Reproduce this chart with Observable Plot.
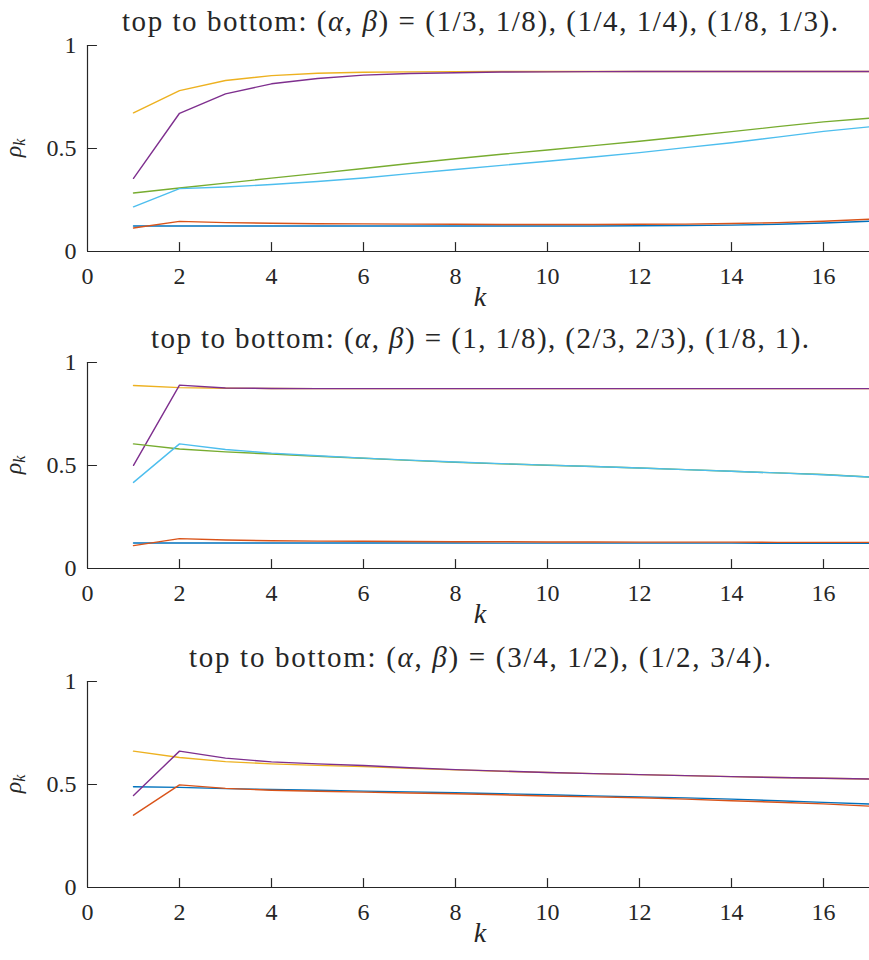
<!DOCTYPE html>
<html>
<head>
<meta charset="utf-8">
<script src="https://cdn.jsdelivr.net/npm/d3@7"></script>
<script src="https://cdn.jsdelivr.net/npm/@observablehq/plot@0.6"></script>
<style>
  html, body { margin: 0; padding: 0; background: #fff; }
  body { width: 869px; height: 960px; position: relative; overflow: hidden; }
  .panel { position: absolute; left: 0; }
  .panel svg { overflow: visible; }
</style>
</head>
<body>
<script>
// ---- data ----
const K = [1, 2, 3, 4, 5, 6, 7, 8, 9, 10, 11, 12, 13, 14, 15, 16, 17];
const xTicks = [0, 2, 4, 6, 8, 10, 12, 14, 16];
const yTicks = [0, 0.5, 1];
const seriesColors = ["#0072BD", "#D95319", "#EDB120", "#7E2F8E", "#77AC30", "#4DBEEE"];

// panel 1: (alpha,beta) = (1/3,1/8), (1/4,1/4), (1/8,1/3)
const p1Params = ["1/3, 1/8", "1/4, 1/4", "1/8, 1/3"];
const p1Blue   = [0.124, 0.124, 0.124, 0.124, 0.124, 0.124, 0.124, 0.124, 0.124, 0.124, 0.124, 0.125, 0.126, 0.128, 0.132, 0.138, 0.147];
const p1Orange = [0.114, 0.146, 0.140, 0.137, 0.135, 0.134, 0.133, 0.132, 0.131, 0.131, 0.131, 0.132, 0.133, 0.136, 0.140, 0.147, 0.157];
const p1Yellow = [0.673, 0.781, 0.830, 0.854, 0.865, 0.870, 0.872, 0.873, 0.874, 0.874, 0.874, 0.874, 0.874, 0.874, 0.874, 0.874, 0.874];
const p1Purple = [0.355, 0.671, 0.765, 0.814, 0.840, 0.856, 0.864, 0.868, 0.871, 0.872, 0.873, 0.874, 0.874, 0.874, 0.874, 0.874, 0.874];
const p1Green  = [0.284, 0.308, 0.332, 0.356, 0.379, 0.403, 0.427, 0.450, 0.472, 0.493, 0.514, 0.535, 0.558, 0.582, 0.606, 0.629, 0.647];
const p1Cyan   = [0.217, 0.305, 0.313, 0.325, 0.340, 0.357, 0.378, 0.398, 0.418, 0.438, 0.459, 0.480, 0.504, 0.528, 0.555, 0.583, 0.605];

// panel 2: (alpha,beta) = (1,1/8), (2/3,2/3), (1/8,1)
const p2Params = ["1, 1/8", "2/3, 2/3", "1/8, 1"];
const p2Blue   = [0.124, 0.124, 0.124, 0.124, 0.124, 0.124, 0.124, 0.124, 0.123, 0.123, 0.123, 0.123, 0.123, 0.123, 0.122, 0.122, 0.122];
const p2Orange = [0.111, 0.145, 0.138, 0.135, 0.133, 0.132, 0.131, 0.130, 0.130, 0.129, 0.129, 0.128, 0.128, 0.128, 0.127, 0.127, 0.127];
const p2Yellow = [0.888, 0.878, 0.875, 0.874, 0.873, 0.873, 0.873, 0.873, 0.873, 0.873, 0.873, 0.873, 0.873, 0.873, 0.873, 0.873, 0.873];
const p2Purple = [0.501, 0.890, 0.876, 0.874, 0.873, 0.873, 0.873, 0.873, 0.873, 0.873, 0.873, 0.873, 0.873, 0.873, 0.873, 0.873, 0.873];
const p2Green  = [0.605, 0.580, 0.566, 0.556, 0.545, 0.535, 0.525, 0.516, 0.508, 0.501, 0.495, 0.488, 0.480, 0.472, 0.464, 0.456, 0.444];
const p2Cyan   = [0.418, 0.605, 0.578, 0.560, 0.547, 0.536, 0.526, 0.517, 0.509, 0.502, 0.495, 0.488, 0.480, 0.472, 0.464, 0.455, 0.444];

// panel 3: (alpha,beta) = (3/4,1/2), (1/2,3/4)
const p3Params = ["3/4, 1/2", "1/2, 3/4"];
const p3Blue   = [0.489, 0.486, 0.480, 0.476, 0.472, 0.468, 0.464, 0.460, 0.455, 0.450, 0.445, 0.440, 0.435, 0.429, 0.421, 0.413, 0.405];
const p3Orange = [0.351, 0.498, 0.481, 0.472, 0.467, 0.463, 0.459, 0.455, 0.450, 0.444, 0.440, 0.436, 0.429, 0.421, 0.414, 0.406, 0.395];
const p3Yellow = [0.662, 0.631, 0.611, 0.600, 0.593, 0.587, 0.579, 0.571, 0.564, 0.558, 0.553, 0.548, 0.543, 0.538, 0.534, 0.530, 0.527];
const p3Purple = [0.447, 0.662, 0.628, 0.610, 0.600, 0.592, 0.581, 0.572, 0.565, 0.558, 0.553, 0.548, 0.543, 0.538, 0.534, 0.530, 0.527];

// ---- drawing ----
const ink = "#262626";
const FONT = "'Liberation Serif', serif";
const W = 869, MT = 45, PH = 206, MB = 72, ML = 87;
const tickShape = { draw(ctx, l) { ctx.moveTo(0, 0); ctx.lineTo(0, -l); } };

function drawPanel(top, series, params, titleWidth) {
  const marks = [
    Plot.ruleY([0], { stroke: ink, strokeWidth: 1.2 }),
    Plot.ruleX([0], { stroke: ink, strokeWidth: 1.2 }),
    Plot.vector(xTicks.filter(t => t > 0), { x: d => d, y: d => 0, length: 9, rotate: 0, anchor: "start", shape: tickShape, stroke: ink, strokeWidth: 1.2 }),
    Plot.vector(yTicks.filter(t => t > 0), { x: d => 0, y: d => d, length: 9, rotate: 90, anchor: "start", shape: tickShape, stroke: ink, strokeWidth: 1.2 }),
    Plot.axisX({ ticks: xTicks, tickSize: 0, tickPadding: 15, tickFormat: d => String(d), fontSize: 24, label: null }),
    Plot.axisY({ ticks: yTicks, tickSize: 0, tickPadding: 11, tickFormat: d => String(d), fontSize: 24, label: null }),
    ...series.map((vals, i) =>
      Plot.line(K.map((k, j) => ({ k, v: vals[j] })), { x: "k", y: "v", stroke: seriesColors[i], strokeWidth: 1.4 })
    )
  ];
  const plot = Plot.plot({
    width: W, height: MT + PH + MB,
    marginTop: MT, marginBottom: MB, marginLeft: ML, marginRight: 0,
    style: { color: ink, background: "transparent", overflow: "visible" },
    x: { domain: [0, 17], label: null },
    y: { domain: [0, 1], label: null },
    marks
  });
  const svg = d3.select(plot);
  // title
  const title = svg.append("text")
    .attr("x", 480).attr("y", MT - 14)
    .attr("text-anchor", "middle")
    .attr("textLength", titleWidth).attr("lengthAdjust", "spacing")
    .attr("font-size", 29).attr("fill", ink);
  title.append("tspan").text("top to bottom: (");
  title.append("tspan").attr("font-style", "italic").text("α");
  title.append("tspan").text(", ");
  title.append("tspan").attr("font-style", "italic").text("β");
  title.append("tspan").text(") = " + params.map(p => "(" + p + ")").join(", ") + ".");
  // x label
  svg.append("text")
    .attr("x", 480).attr("y", MT + PH + 55)
    .attr("text-anchor", "middle")
    .attr("font-size", 28).attr("font-style", "italic").attr("fill", ink)
    .text("k");
  // y label
  const yl = svg.append("text")
    .attr("transform", `translate(21,${MT + PH / 2}) rotate(-90)`)
    .attr("text-anchor", "middle")
    .attr("font-size", 24).attr("font-style", "italic").attr("fill", ink);
  yl.append("tspan").text("ρ");
  yl.append("tspan").attr("font-size", 16).attr("dy", 4).text("k");

  // one serif family for every text of the panel
  svg.selectAll("text").style("font-family", FONT);

  const div = document.createElement("div");
  div.className = "panel";
  div.style.top = top + "px";
  div.appendChild(plot);
  document.body.appendChild(div);
}

drawPanel(0, [p1Blue, p1Orange, p1Yellow, p1Purple, p1Green, p1Cyan], p1Params, 716);
drawPanel(317, [p2Blue, p2Orange, p2Yellow, p2Purple, p2Green, p2Cyan], p2Params, 658);
drawPanel(636, [p3Blue, p3Orange, p3Yellow, p3Purple], p3Params, 582);
</script>
</body>
</html>
